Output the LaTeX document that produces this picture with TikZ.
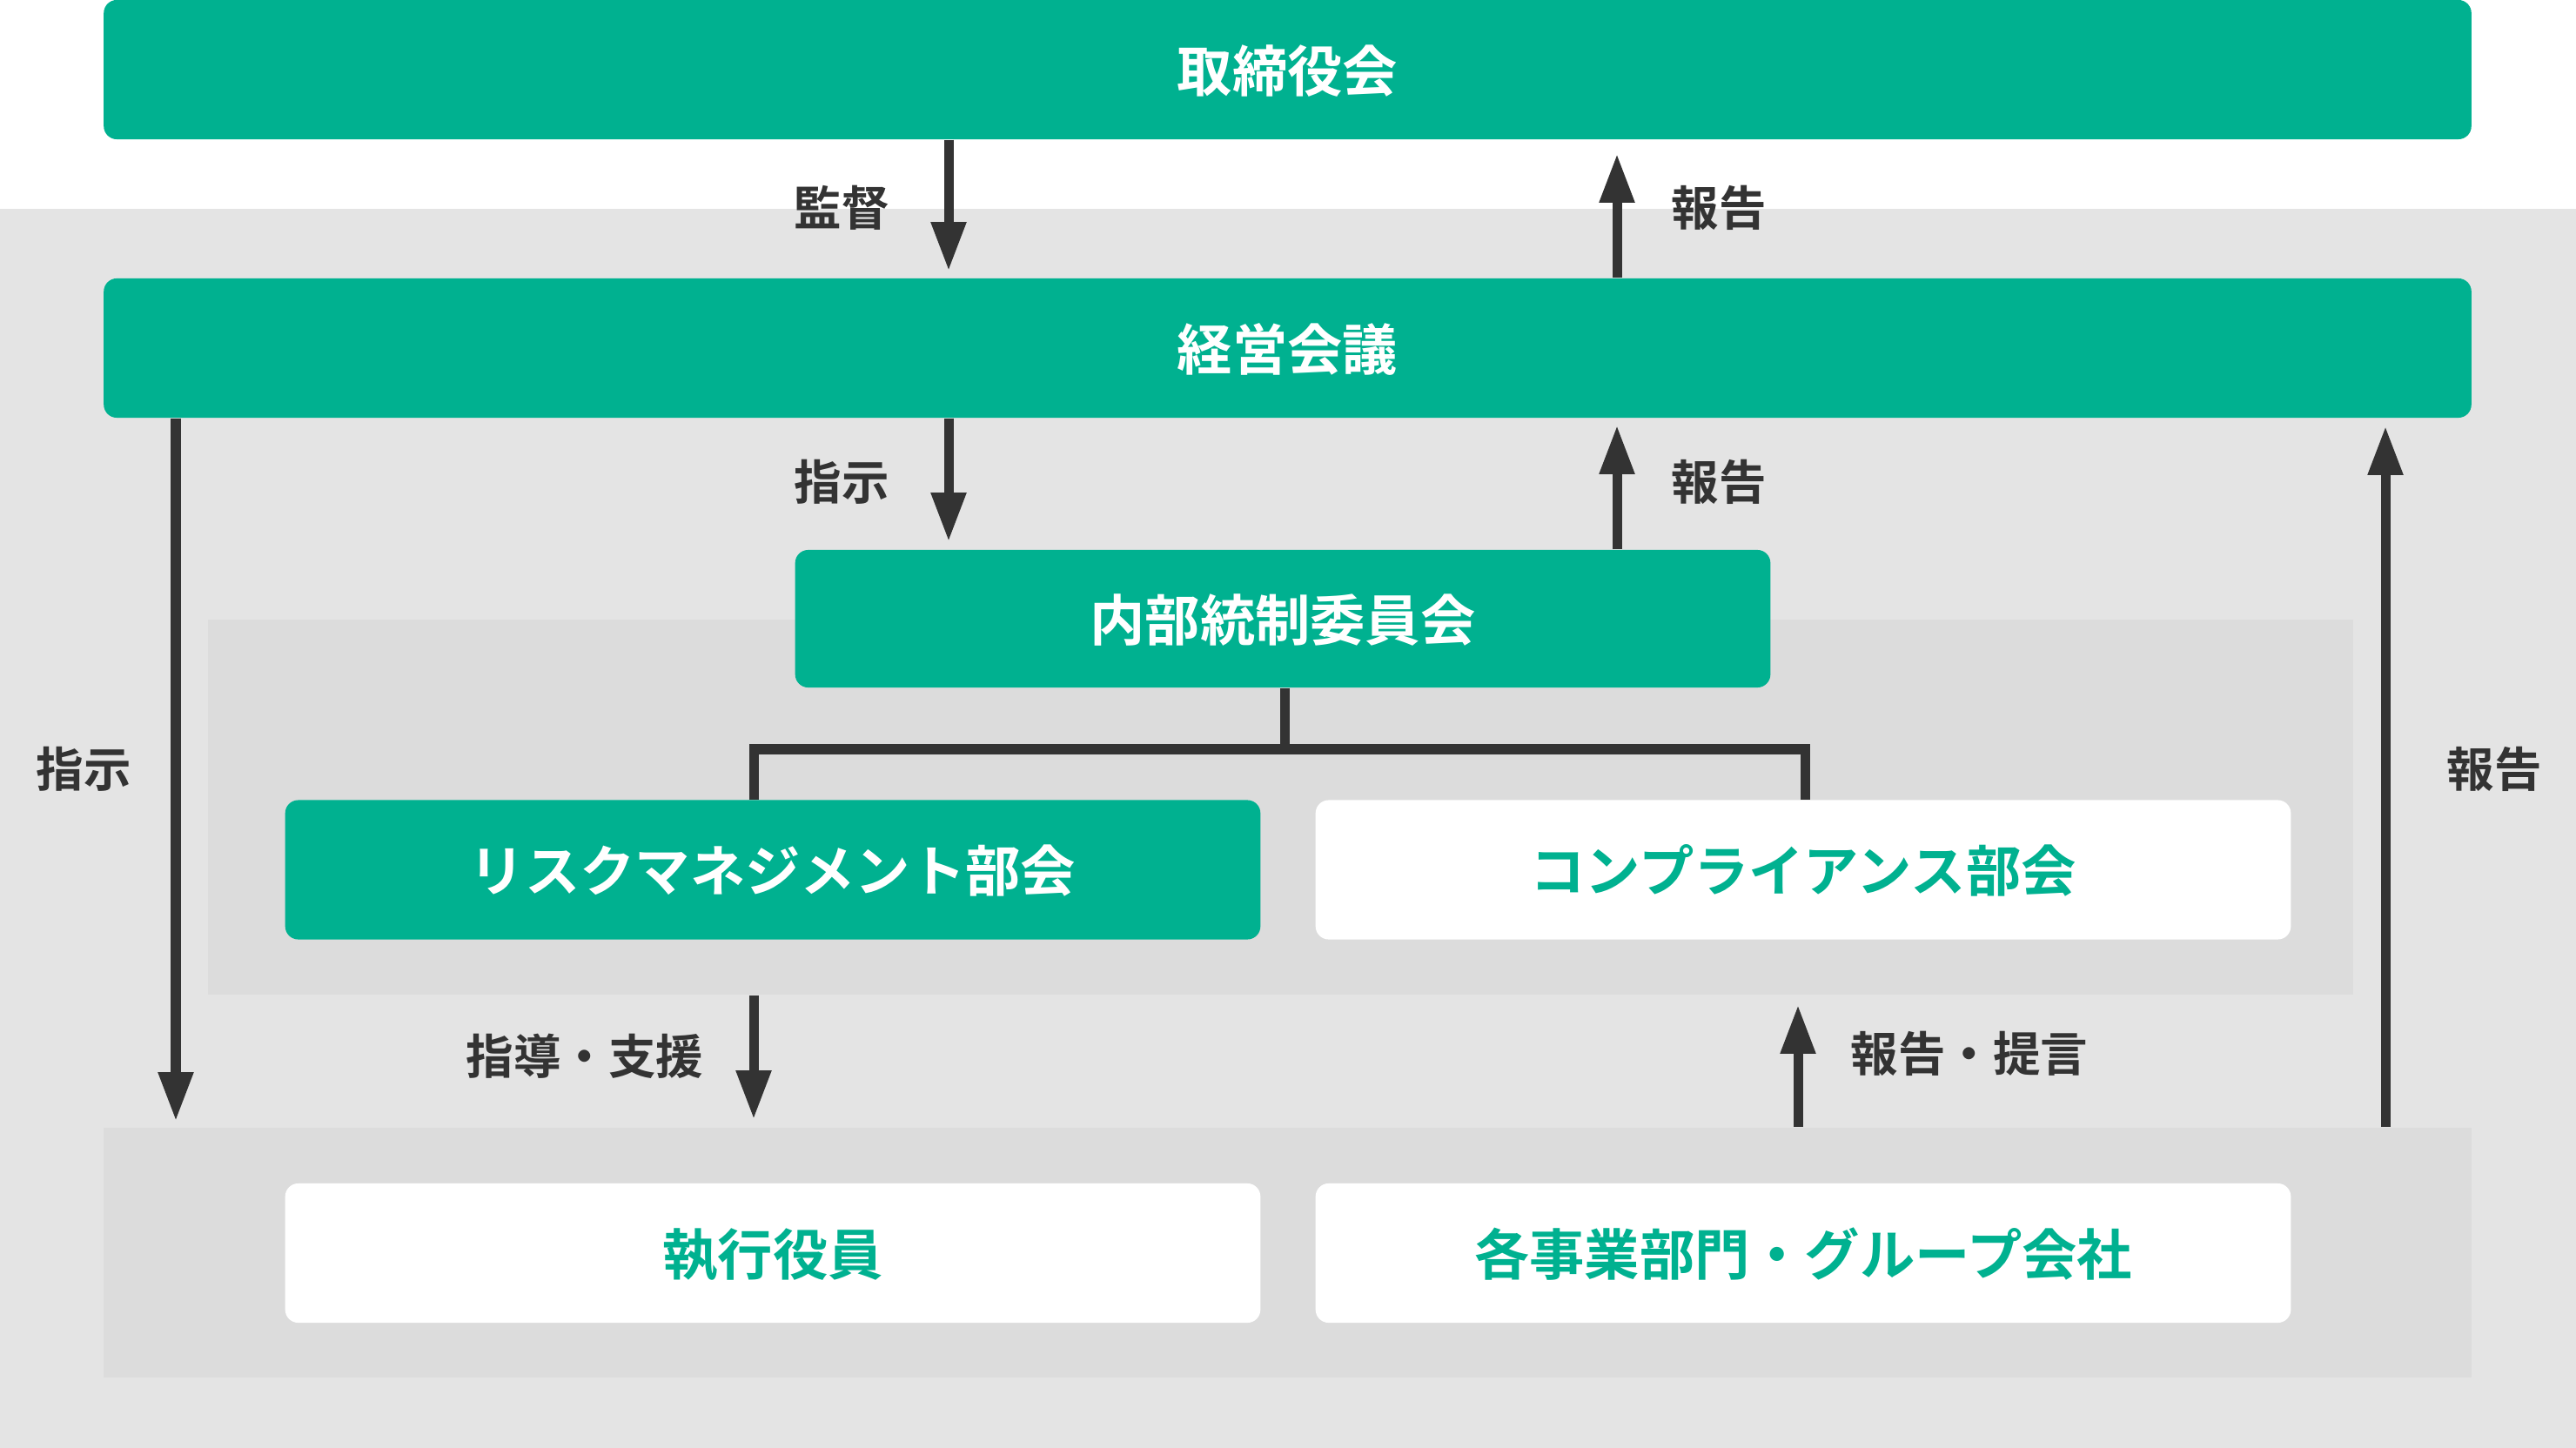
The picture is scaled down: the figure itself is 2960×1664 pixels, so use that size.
\documentclass[tikz,border=0pt]{standalone}
\usepackage{fontspec}
\setmainfont{Noto Sans CJK JP}[BoldFont={Noto Sans CJK JP Bold}]
\usetikzlibrary{arrows.meta}
\definecolor{brand}{HTML}{00B190}
\definecolor{ink}{HTML}{333333}
\definecolor{bgpanel}{HTML}{E4E4E4}
\definecolor{subpanel}{HTML}{DCDCDC}
\tikzset{
  box/.style={rectangle,rounded corners=1.5mm,fill=brand,text=white,inner sep=0pt,minimum height=1.6cm,text height=1.57em,text depth=0.12em,font=\bfseries\fontsize{18}{22}\selectfont},
  lightbox/.style={box,fill=white,text=brand},
  panel/.style={rectangle,fill=subpanel,inner sep=0pt},
  line/.style={draw=ink,line width=1.1mm,-{Triangle[length=5.6mm,width=3.8mm]}},
  tree/.style={draw=ink,line width=1.1mm},
  lbl/.style={text=ink,inner sep=0pt,text height=1.21em,text depth=0.12em,font=\bfseries\fontsize{15.5}{18}\selectfont}
}

\begin{document}
\begin{tikzpicture}[x=0.01cm,y=-0.01cm]
\useasboundingbox (0,0) rectangle (2960,1664);
\fill[bgpanel] (0,240) rectangle (2960,1664);
\node[panel,minimum width=24.63cm,minimum height=4.31cm] (inner) at (1471.5,927.5) {};
\node[panel,minimum width=27.19cm,minimum height=2.87cm] (lower) at (1479.5,1439.5) {};

\node[box,minimum width=27.19cm] (board) at (1479.5,80) {取締役会};
\node[box,minimum width=27.19cm] (mgmt) at (1479.5,400) {経営会議};
\node[box,minimum width=11.2cm,minimum height=1.58cm] (icc) at (1474,711) {内部統制委員会};
\node[box,minimum width=11.2cm] (risk) at (888,999.5) {リスクマネジメント部会};
\node[lightbox,minimum width=11.2cm] (comp) at (2072,999.5) {コンプライアンス部会};
\node[lightbox,minimum width=11.2cm] (exec) at (888,1440) {執行役員};
\node[lightbox,minimum width=11.2cm] (div) at (2072,1440) {各事業部門・グループ会社};

% arrow columns
\coordinate (xo) at (202,0);
\coordinate (xa) at (866,0);
\coordinate (xl) at (1090,0);
\coordinate (xr) at (1858,0);
\coordinate (xb) at (2066,0);
\coordinate (xc) at (2074,0);
\coordinate (xe) at (2741,0);
\coordinate (split) at (1476,861);

\draw[line,shorten >=0.8mm] (board.south -| xl) -- (mgmt.north -| xl);
\draw[line,shorten >=1.6mm] (mgmt.north -| xr) -- (board.south -| xr);
\draw[line,shorten >=0.9mm] (mgmt.south -| xl) -- (icc.north -| xl);
\draw[line,shorten >=0.8mm] (icc.north -| xr) -- (mgmt.south -| xr);
\draw[tree] (icc.south -| split) -- (split);
\draw[tree] (risk.north -| xa) |- (split) -| (comp.north -| xc);
\draw[line,shorten >=0.9mm] (inner.south -| xa) -- (lower.north -| xa);
\draw[line,shorten >=1.1mm] (lower.north -| xb) -- (inner.south -| xb);
\draw[line,shorten >=0.7mm] (mgmt.south -| xo) -- (lower.north -| xo);
\draw[line,shorten >=0.9mm] (lower.north -| xe) -- (mgmt.south -| xe);

\node[lbl] (l1) at (967,240) {監督};
\node[lbl] (l2) at (1975,240) {報告};
\node[lbl] (l3) at (967,555) {指示};
\node[lbl] (l4) at (1975,555) {報告};
\node[lbl] (l5) at (96,885) {指示};
\node[lbl] (l6) at (2866,885) {報告};
\node[lbl] (l7) at (672,1215) {指導・支援};
\node[lbl] (l8) at (2263,1212) {報告・提言};
\end{tikzpicture}
\end{document}
